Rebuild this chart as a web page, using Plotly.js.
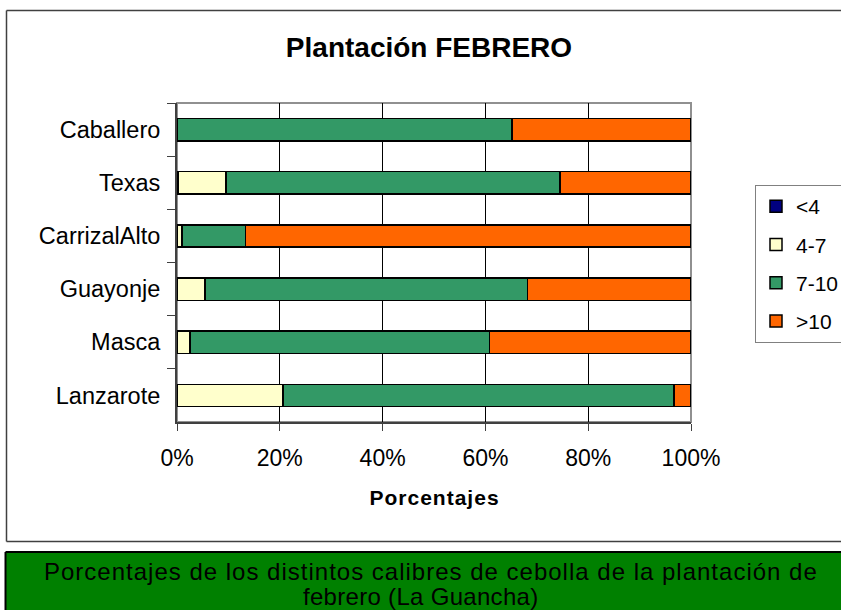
<!DOCTYPE html>
<html>
<head>
<meta charset="utf-8">
<script src="https://cdn.plot.ly/plotly-3.0.1.min.js"></script>
<style>html,body{margin:0;padding:0;background:#fff;overflow:hidden;width:841px;height:610px}#chart{width:841px;height:610px;overflow:hidden}
#chart g.annotation .annotation-text{letter-spacing:1px}
#chart g.annotation[data-index="2"] .annotation-text{letter-spacing:0.3px}</style>
</head>
<body>
<div id="chart"></div>
<script>
// Categories listed bottom to top (as drawn by the axis)
const categories = ['Lanzarote', 'Masca', 'Guayonje', 'CarrizalAlto', 'Texas', 'Caballero'];
const seriesNames = ['<4', '4-7', '7-10', '>10'];
const valsLt4  = [0, 0, 0, 0, 0.3, 0];
const vals4to7 = [20.6, 2.5, 5.4, 1.0, 9.2, 0];
const vals7to10 = [76.1, 58.3, 62.8, 12.3, 65.0, 65.2];
const valsGt10 = [3.3, 39.2, 31.8, 86.7, 25.5, 34.8];
const xTickVals = [0, 20, 40, 60, 80, 100];
const xTickText = ['0%', '20%', '40%', '60%', '80%', '100%'];
const captionLines = ['Porcentajes de los distintos calibres de cebolla de la plantación de', 'febrero (La Guancha)'];

const colors = ['#000080', '#FFFFCC', '#339966', '#FF6600'];
const allVals = [valsLt4, vals4to7, vals7to10, valsGt10];

const W = 841, H = 610;
const px = x => x / W;
const py = y => (H - y) / H;
const FONT = 'Liberation Sans, Arial, sans-serif';

const traces = allVals.map((v, i) => ({
  type: 'bar',
  orientation: 'h',
  name: seriesNames[i],
  legendgroup: 'g' + i,
  y: categories,
  x: v,
  marker: { color: colors[i], line: { color: '#000000', width: 1.5 } },
  hoverinfo: 'name+x'
}));

function hline(x0, x1, y, color, width) {
  return { type: 'line', xref: 'paper', yref: 'paper', x0: px(x0), x1: px(x1), y0: py(y), y1: py(y),
           line: { color: color, width: width }, layer: 'below' };
}
function vline(x, y0, y1, color, width) {
  return { type: 'line', xref: 'paper', yref: 'paper', x0: px(x), x1: px(x), y0: py(y0), y1: py(y1),
           line: { color: color, width: width }, layer: 'below' };
}

const layout = {
  width: W, height: H,
  margin: { l: 0, r: 0, t: 0, b: 0, pad: 0, autoexpand: false },
  paper_bgcolor: '#ffffff',
  plot_bgcolor: '#ffffff',
  barmode: 'stack',
  bargap: 0.58,
  showlegend: true,
  font: { family: FONT, color: '#000000' },
  title: {
    text: '<b>Plantación FEBRERO</b>',
    font: { family: FONT, size: 28, color: '#000000' },
    x: px(429), y: py(47), xref: 'paper', yref: 'paper',
    xanchor: 'center', yanchor: 'middle', automargin: false
  },
  xaxis: {
    domain: [px(177), px(691)],
    range: [0, 100],
    tickvals: xTickVals,
    ticktext: xTickText,
    showgrid: true, gridcolor: '#000000', gridwidth: 1,
    zeroline: false,
    showline: true, linecolor: '#404040', linewidth: 2,
    ticks: 'outside', ticklen: 7, tickcolor: '#404040', tickwidth: 1,
    ticklabelstandoff: 7,
    tickfont: { family: FONT, size: 23, color: '#000000' },
    automargin: false,
    fixedrange: true
  },
  yaxis: {
    domain: [py(422), py(103)],
    type: 'category',
    showgrid: false,
    zeroline: false,
    showline: true, linecolor: '#404040', linewidth: 2,
    ticks: 'outside', ticklen: 8, tickcolor: '#404040', tickwidth: 1,
    tickson: 'boundaries',
    ticklabelstandoff: 10,
    tickfont: { family: FONT, size: 23.5, color: '#000000' },
    automargin: false,
    fixedrange: true
  },
  legend: {
    x: px(755), y: py(185), xanchor: 'left', yanchor: 'top',
    xref: 'paper', yref: 'paper',
    bgcolor: '#ffffff', bordercolor: '#808080', borderwidth: 1,
    font: { family: FONT, size: 21, color: '#000000' },
    traceorder: 'grouped',
    tracegroupgap: 8,
    itemwidth: 30
  },
  shapes: [
    // outer frame (right edge lies beyond the picture)
    hline(6.5, 841, 10.5, '#404040', 1.5),
    hline(6.5, 841, 541.5, '#404040', 1.5),
    vline(6.5, 10.5, 541.5, '#404040', 1.5),
    // plot area border (gray)
    { type: 'rect', xref: 'paper', yref: 'paper', x0: px(177), x1: px(691), y0: py(422), y1: py(103),
      line: { color: '#909090', width: 2 }, fillcolor: 'rgba(0,0,0,0)', layer: 'below' },
    // caption box
    { type: 'rect', xref: 'paper', yref: 'paper', x0: px(5.5), x1: px(841), y0: py(610), y1: py(552),
      line: { width: 0 }, fillcolor: '#008000', layer: 'below' },
    hline(5.5, 841, 552, '#000000', 2),
    vline(5.5, 552, 610, '#000000', 2)
  ],
  annotations: [
    { text: '<b>Porcentajes</b>', xref: 'paper', yref: 'paper', x: px(434), y: py(497),
      xanchor: 'center', yanchor: 'middle', showarrow: false,
      font: { family: FONT, size: 21, color: '#000000' } },
    { text: captionLines[0],
      xref: 'paper', yref: 'paper', x: px(431), y: py(571),
      xanchor: 'center', yanchor: 'middle', showarrow: false, align: 'center',
      font: { family: FONT, size: 24, color: '#000000' } },
    { text: captionLines[1],
      xref: 'paper', yref: 'paper', x: px(420), y: py(596),
      xanchor: 'center', yanchor: 'middle', showarrow: false, align: 'center',
      font: { family: FONT, size: 24, color: '#000000' } }
  ]
};

Plotly.newPlot('chart', traces, layout, { displayModeBar: false, staticPlot: true });
</script>
</body>
</html>
